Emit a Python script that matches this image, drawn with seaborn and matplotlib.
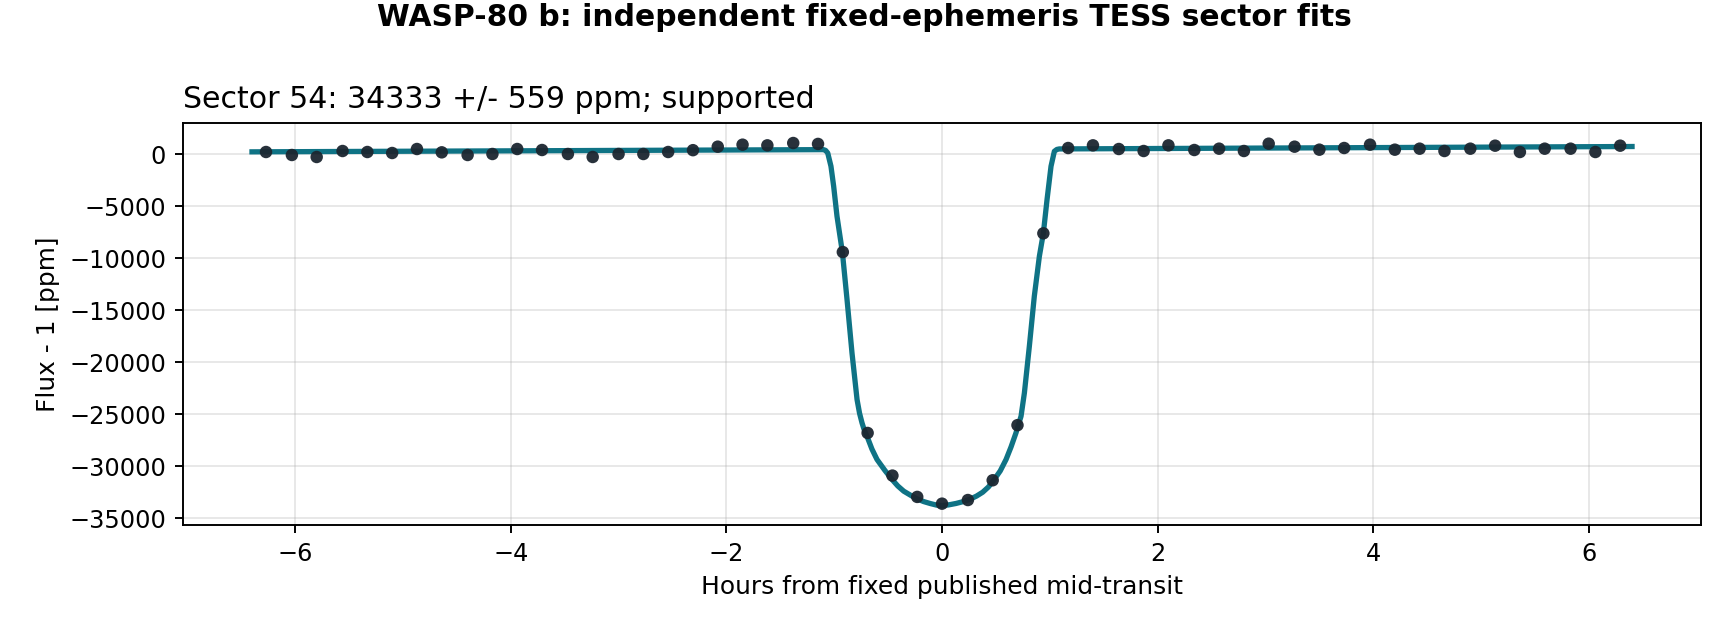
import matplotlib
matplotlib.use("Agg")
import matplotlib.pyplot as plt
import seaborn as sns
import pandas as pd

# binned TESS points (hours from mid-transit, flux - 1 in ppm)
bin_hours = [-6.27, -6.03, -5.80, -5.56, -5.33, -5.10, -4.87, -4.64, -4.40, -4.17,
             -3.94, -3.71, -3.47, -3.24, -3.00, -2.77, -2.54, -2.31, -2.08, -1.85,
             -1.62, -1.38, -1.15, -0.92, -0.69, -0.46, -0.23, 0.00, 0.24, 0.47,
             0.70, 0.94, 1.17, 1.40, 1.64, 1.87, 2.10, 2.34, 2.57, 2.80,
             3.03, 3.27, 3.50, 3.73, 3.97, 4.20, 4.43, 4.66, 4.90, 5.13,
             5.36, 5.59, 5.83, 6.06, 6.29]
bin_ppm = [224, -64, -256, 320, 224, 128, 512, 192, -64, 32,
           512, 416, 32, -256, 32, 32, 224, 400, 736, 928,
           864, 1088, 1000, -9400, -26800, -30900, -32950, -33600, -33250, -31350,
           -26050, -7600, 608, 864, 512, 320, 864, 416, 544, 320,
           1024, 736, 448, 608, 928, 448, 544, 320, 544, 832,
           224, 544, 544, 224, 832]

# fitted transit model
model_hours = [-6.40, -1.10, -1.08, -1.06, -1.03, -1.005, -0.974, -0.924, -0.881, -0.835,
               -0.788, -0.765, -0.742, -0.72, -0.696, -0.65, -0.603, -0.53, -0.464, -0.41,
               -0.355, -0.29, -0.232, -0.17, -0.108, -0.05, 0.0, 0.06, 0.130, 0.19,
               0.254, 0.32, 0.377, 0.43, 0.476, 0.54, 0.594, 0.64, 0.686, 0.733,
               0.764, 0.810, 0.856, 0.903, 0.940, 0.974, 1.011, 1.042, 1.065, 1.088,
               6.40]
model_ppm = [240, 452, 380, 128, -1150, -3075, -5960, -9420, -13970, -19100,
             -23590, -24900, -25830, -26550, -27110, -28350, -29350, -30400, -31270, -31900,
             -32400, -32800, -33140, -33400, -33590, -33740, -33780, -33720, -33580, -33420,
             -33200, -32870, -32500, -32000, -31400, -30450, -29350, -28150, -26790, -25190,
             -22950, -18460, -13650, -9800, -7580, -4360, -1150, 290, 470, 520,
             752]

title = "WASP-80 b: independent fixed-ephemeris TESS sector fits"
panel_title = "Sector 54: 34333 +/- 559 ppm; supported"

points = pd.DataFrame({"hours": bin_hours, "ppm": bin_ppm})
model = pd.DataFrame({"hours": model_hours, "ppm": model_ppm})

fig, ax = plt.subplots(figsize=(10, 630 / 172.8), dpi=172.8)
fig.subplots_adjust(left=0.1059, right=0.9844, top=0.8052, bottom=0.1667)

sns.lineplot(data=model, x="hours", y="ppm", ax=ax, color="#0f7385",
             linewidth=2.2, estimator=None, sort=False, zorder=2)
sns.scatterplot(data=points, x="hours", y="ppm", ax=ax, color="#1c2630",
                s=27, edgecolor="none", alpha=0.95, zorder=3)

ax.set_xlim(-7.04, 7.04)
ax.set_ylim(-35650, 3040)
ax.grid(True, color="#b0b0b0", alpha=0.3, linewidth=0.8)
ax.set_axisbelow(True)
ax.set_xlabel("Hours from fixed published mid-transit", fontsize=10.4)
ax.set_ylabel("Flux - 1 [ppm]", fontsize=10.4)
ax.set_title(panel_title, loc="left", fontsize=12.5)
fig.suptitle(title, fontweight="bold", fontsize=12.4, y=0.995)

fig.savefig("out.png", dpi=172.8)
